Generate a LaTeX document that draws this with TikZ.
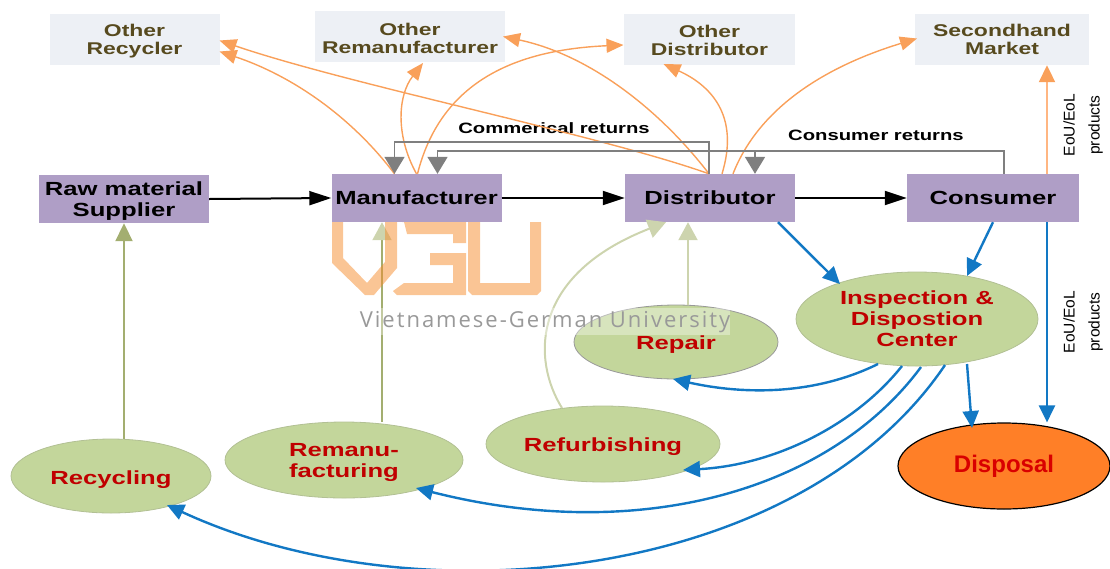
\documentclass[tikz,border=0pt]{standalone}
\usepackage{fontspec}
\setmainfont[FakeStretch=1.35]{Liberation Sans}
\newfontfamily\plainf{Liberation Sans}
\newfontfamily\wmf[LetterSpace=9]{Open Sans}
\usetikzlibrary{arrows.meta,shapes.geometric,calc}
\definecolor{topfill}{HTML}{EDF0F5}
\definecolor{purp}{HTML}{AF9EC6}
\definecolor{elli}{HTML}{C3D69B}
\definecolor{orgl}{HTML}{F9A05A}
\definecolor{orgp}{HTML}{FFB682}
\definecolor{blu}{HTML}{1278C4}
\definecolor{gry}{HTML}{7F7F7F}
\definecolor{oliv}{HTML}{A3AE70}
\definecolor{pale}{HTML}{CDD4AE}
\definecolor{brn}{HTML}{574A1E}
\definecolor{rd}{HTML}{C00000}
\definecolor{dispo}{HTML}{FF7F27}
\definecolor{wmorange}{HTML}{F68B2C}
\newcommand{\upstrut}[1]{\rule{0pt}{#1pt}}
\tikzset{
 topbox/.style={fill=topfill,minimum width=#1,minimum height=51pt,inner sep=0pt,align=center,text=brn,font=\fontsize{17}{18.5}\selectfont\bfseries},
 purplebox/.style={fill=purp,minimum width=170pt,minimum height=48pt,inner sep=0pt,align=center,text=black,font=\fontsize{19}{21}\selectfont\bfseries},
 oval/.style={ellipse,fill=elli,draw=#1,line width=.8pt,inner sep=0pt,align=center,text=rd,font=\fontsize{19}{21}\selectfont\bfseries},
 oval/.default={elli!75!gray},
 note/.style={text=black,inner sep=0pt,font=\fontsize{15}{16}\selectfont\bfseries},
 side/.style={rotate=90,inner sep=0pt,align=center,text=black,font=\plainf\fontsize{15.5}{25}\selectfont},
 flow/.style={black,line width=2pt,-{Triangle[length=22pt,width=14pt]}},
 up/.style={oliv,line width=2pt,-{Triangle[length=18pt,width=17pt]}},
 upmix/.style={oliv,line width=2pt,-{Triangle[length=18pt,width=19pt,color=pale]}},
 upp/.style={pale,line width=2pt,-{Triangle[length=18pt,width=19pt]}},
 ora/.style={orgl,line width=1.4pt,-{Triangle[length=17pt,width=14pt,color=orgl]}},
 orathick/.style={orgp,line width=2pt,-{Triangle[length=17pt,width=16pt,color=orgl]}},
 ret/.style={gry,line width=1.8pt,-{Triangle[length=17pt,width=20pt]}},
 bl/.style={blu,line width=2.4pt,-{Triangle[length=17pt,width=16pt]}},
 markwm/.style={fill=wmorange,fill opacity=.5,draw=none}
}
\begin{document}
\begin{tikzpicture}[x=1pt,y=-1pt]
\useasboundingbox (0,0) rectangle (1110,568);
\clip (0,0) rectangle (1110,568);
% nodes
\node[topbox=170pt] (orec) at (134.5,39.5) {\upstrut{16}Other\\Recycler};
\node[topbox=190pt] (orem) at (410,36.5) {\upstrut{16}Other\\Remanufacturer};
\node[topbox=171pt] (odis) at (709.5,39) {\upstrut{15}Other\\Distributor};
\node[topbox=174pt] (sec) at (1002,39.5) {Secondhand\\Market};
\node[purplebox] (raw) at (124,199) {\upstrut{17}Raw material\\Supplier};
\node[purplebox] (man) at (416.5,198) {Manufacturer};
\node[purplebox] (dis) at (710,198) {Distributor};
\node[purplebox,minimum width=172pt] (con) at (993,198) {Consumer};
\node[oval,minimum width=242pt,minimum height=94pt] (insp) at (917,319) {Inspection \&\\Dispostion\\Center};
\node[oval=gray!80,minimum width=204pt,minimum height=74pt] (rep) at (676,342) {\upstrut{19}Repair};
\node[oval,minimum width=234pt,minimum height=76pt] (ref) at (603,444) {\upstrut{20}Refurbishing};
\node[oval,minimum width=238pt,minimum height=76pt] (rem) at (344,460) {\upstrut{18}Remanu-\\facturing};
\node[oval,minimum width=200pt,minimum height=74pt] (rcy) at (111,476) {\upstrut{21}Recycling};
\node[ellipse,fill=dispo,draw=black,line width=1.2pt,inner sep=0pt,minimum width=212pt,minimum height=86pt,text=red!85!black,font=\plainf\fontsize{24}{26}\selectfont\bfseries] (dsp) at (1004,466) {Disposal};
% labels
\node[note] (lc) at (554,128) {Commerical returns};
\node[note] (lr) at (876,135) {Consumer returns};
\node[side] (l1) at (1083,125) {EoU/EoL\\products};
\node[side] (l2) at (1083,322) {EoU/EoL\\products};
% main flow
\draw[flow] (raw.east) -- (man.west);
\draw[flow] (man.east) -- (dis.west);
\draw[flow] (dis.east) -- (con.west);
% recovery arrows
\draw[up] (rcy.north -| raw.south) -- (raw.south);
\draw[upmix] ([shift={(38,-38)}]rem.center) -- ([xshift=-34.5pt]man.south);
\draw[upp] ([xshift=12pt]rep.north) -- ([xshift=-22pt]dis.south);
\draw[upp] ([shift={(-41,-36)}]ref.center) .. controls (532,360) and (530,275) .. ([xshift=-44pt]dis.south);
% orange
\draw[ora] ([xshift=-22pt]man.north) .. controls (350,115) and (290,75) .. ([shift={(85,12)}]orec.center);
\draw[ora] ([xshift=-1pt]dis.north) .. controls (600,135) and (350,85) .. ([shift={(85,1)}]orec.center);
\draw[ora] (man.north) .. controls (395,135) and (398,95) .. ([shift={(13,26.5)}]orem.center);
\draw[ora] ([xshift=1pt]man.north) .. controls (440,85) and (510,50) .. ([shift={(-86,6)}]odis.center);
\draw[ora] ([xshift=-1pt]dis.north) .. controls (660,110) and (590,55) .. ([shift={(93,0)}]orem.center);
\draw[ora] ([xshift=12pt]dis.north) .. controls (740,115) and (710,85) .. ([shift={(-46,25)}]odis.center);
\draw[ora] ([xshift=23pt]dis.north) .. controls (760,105) and (830,65) .. ([shift={(-85,-1)}]sec.center);
\draw[orathick] ([xshift=54pt]con.north) -- ([xshift=45pt]sec.south);
% gray returns
\draw[ret] ([xshift=-1pt]dis.north) |- (554,142) -| ([xshift=-22pt]man.north);
\draw[ret] ([xshift=11pt]con.north) |- (720,151) -| ([xshift=21pt]man.north);
\coordinate (branch) at ([shift={(45,-23)}]dis.north);
\draw[ret] (branch) -- ([xshift=45pt]dis.north);
% blue
\draw[bl] ([xshift=68pt]dis.south) -- ([shift={(-77,-35)}]insp.center);
\draw[bl] (con.south) -- ([shift={(50,-43)}]insp.center);
\draw[bl] ([xshift=54pt]con.south) -- ([xshift=43pt]dsp.north);
\draw[bl] ([shift={(50,45)}]insp.center) -- ([shift={(-32,-38)}]dsp.center);
\draw[bl] ([shift={(-39,45)}]insp.center) .. controls (815,395) and (745,395) .. ([shift={(-3,37)}]rep.center);
\draw[bl] ([shift={(-15,47)}]insp.center) .. controls (855,425) and (775,465) .. ([shift={(80,26)}]ref.center);
\draw[bl] ([shift={(4,48)}]insp.center) .. controls (830,490) and (640,545) .. ([shift={(72,28)}]rem.center);
\draw[bl] ([shift={(28,46)}]insp.center) .. controls (800,580) and (420,622) .. ([shift={(56,29)}]rcy.center);
% watermark
\path[markwm] (332,222) -- (332,263) -- (365,295) -- (374,295) -- (397,268) -- (397,222) -- (385,222) -- (385,262) -- (367,283) -- (343,258) -- (343,222) -- cycle;
\path[markwm] (402,222) -- (466,222) -- (466,243) -- (453,243) -- (453,234) -- (407,234) -- (404,222) -- cycle;
\path[markwm] (430,253) -- (466,253) -- (466,295) -- (397,295) -- (393,291) -- (404,283) -- (453,283) -- (453,265) -- (430,265) -- cycle;
\path[markwm] (468,222) -- (480,222) -- (480,283) -- (530,283) -- (530,222) -- (541,222) -- (541,291) -- (537,295) -- (472,295) -- (468,291) -- cycle;
\fill[white,fill opacity=.35] (360,308) rectangle (730,335);
\node[inner sep=0pt,text=gray!80,font=\wmf\fontsize{22}{24}\selectfont] (wm) at (545,322) {Vietnamese-German University};
\end{tikzpicture}
\end{document}
